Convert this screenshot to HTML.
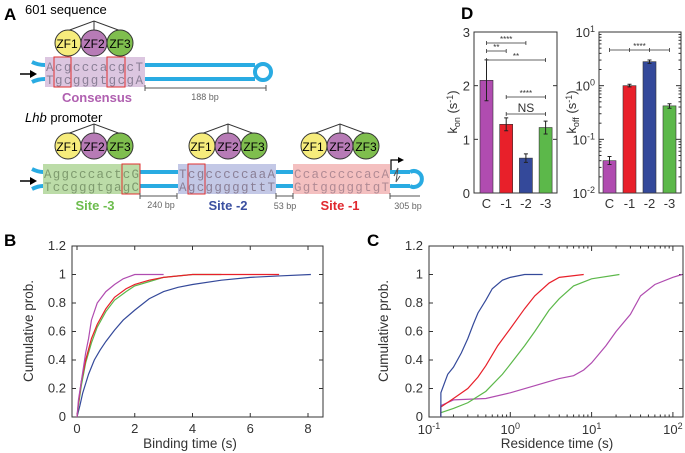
<!DOCTYPE html>
<html><head><meta charset="utf-8"><style>
html,body{margin:0;padding:0;background:#fff}
svg{display:block;font-family:"Liberation Sans",sans-serif}
.mono{font-family:"Liberation Mono",monospace;font-size:12.5px;fill:#8a7f96}
.tk{font-size:13px;fill:#333}
</style></head><body>
<svg id="fig" width="685" height="453" viewBox="0 0 685 453">
<defs>
<g id="zf">
<polyline points="-27,-12 0,-22 27,-12" fill="none" stroke="#333" stroke-width="1"/>
<line x1="0" y1="-22" x2="0" y2="-13" stroke="#333"/>
<circle cx="-26" cy="0" r="13" fill="#f6ec7c" stroke="#333"/>
<circle cx="0" cy="0" r="13" fill="#b77bb6" stroke="#333"/>
<circle cx="26" cy="0" r="13" fill="#7fbe4e" stroke="#333"/>
</g>
</defs>
<!-- Panel A -->
<g>
<text x="4" y="20" font-size="17" font-weight="bold">A</text>
<text x="25" y="14" font-size="13">601 sequence</text>
<g><use href="#zf" x="94" y="43"/>
<text x="67" y="48" font-size="12" text-anchor="middle">ZF1</text><text x="94" y="48" font-size="12" text-anchor="middle">ZF2</text><text x="120" y="48" font-size="12" text-anchor="middle">ZF3</text></g>
<rect x="45" y="57" width="100" height="30" fill="#dcc6e0"/>
<g stroke="#29abe2" stroke-width="4" fill="none">
<path d="M32,62 Q38,65 45,65 M32,82 Q38,79 45,79"/>
<line x1="145" y1="65" x2="255" y2="65"/><line x1="145" y1="79" x2="255" y2="79"/>
<circle cx="263" cy="72" r="8"/></g>
<text x="46" y="71" class="mono" textLength="97" lengthAdjust="spacing">AcgcccacgcT</text><text x="46" y="84" class="mono" textLength="97" lengthAdjust="spacing">TgcgggtgcgA</text>
<rect x="54" y="57" width="17" height="30" fill="none" stroke="#e03030"/>
<rect x="107" y="57" width="18" height="30" fill="none" stroke="#e03030"/>
<path d="M20,74 H33" stroke="#000" stroke-width="1.5"/><path d="M37,74 L30,70 L30,78Z"/>
<text x="97" y="102" font-size="13" font-weight="bold" fill="#b060b0" text-anchor="middle">Consensus</text>
<path d="M145,85 V91 M145,88 H266 M266,85 V91" stroke="#555" fill="none"/>
<text x="205" y="100" font-size="9" fill="#666" text-anchor="middle">188 bp</text>
<text x="25" y="122" font-size="13"><tspan font-style="italic">Lhb</tspan> promoter</text>
<g><use href="#zf" x="94" y="146"/><text x="67" y="151" font-size="12" text-anchor="middle">ZF1</text><text x="94" y="151" font-size="12" text-anchor="middle">ZF2</text><text x="120" y="151" font-size="12" text-anchor="middle">ZF3</text></g>
<g><use href="#zf" x="228" y="146"/><text x="201" y="151" font-size="12" text-anchor="middle">ZF1</text><text x="228" y="151" font-size="12" text-anchor="middle">ZF2</text><text x="254" y="151" font-size="12" text-anchor="middle">ZF3</text></g>
<g><use href="#zf" x="340" y="146"/><text x="313" y="151" font-size="12" text-anchor="middle">ZF1</text><text x="340" y="151" font-size="12" text-anchor="middle">ZF2</text><text x="366" y="151" font-size="12" text-anchor="middle">ZF3</text></g>
<rect x="43" y="164" width="97" height="30" fill="#bcdca8"/>
<rect x="178" y="164" width="98" height="30" fill="#c3c8e6"/>
<rect x="293" y="164" width="97" height="30" fill="#f4c0c0"/>
<g stroke="#29abe2" stroke-width="4" fill="none">
<path d="M32,169 Q38,172 43,172 M32,189 Q38,186 43,186"/>
<line x1="140" y1="172" x2="178" y2="172"/><line x1="140" y1="186" x2="178" y2="186"/>
<line x1="276" y1="172" x2="293" y2="172"/><line x1="276" y1="186" x2="293" y2="186"/>
<line x1="390" y1="172" x2="410" y2="172"/><line x1="390" y1="186" x2="410" y2="186"/>
<path d="M410,172 A8,8 0 1 1 410,186" /></g>
<path d="M394,176 L398,168 L396,182 L400,176" stroke="#555" fill="none"/>
<path d="M391,170 V160 H400" stroke="#000" fill="none" stroke-width="1.2"/><path d="M404,160 L398,157 L398,163Z"/>
<text x="44" y="178" class="mono" style="fill:#7e9a6e" textLength="95" lengthAdjust="spacing">AggcccactcG</text><text x="44" y="191" class="mono" style="fill:#7e9a6e" textLength="95" lengthAdjust="spacing">TccgggtgagC</text>
<text x="179" y="178" class="mono" textLength="96" lengthAdjust="spacing">TcgcccccaaA</text><text x="179" y="191" class="mono" textLength="96" lengthAdjust="spacing">AgcgggggttT</text>
<text x="294" y="178" class="mono" style="fill:#b08a94" textLength="95" lengthAdjust="spacing">CcacccccacA</text><text x="294" y="191" class="mono" style="fill:#b08a94" textLength="95" lengthAdjust="spacing">GgtgggggtgT</text>
<rect x="122" y="164" width="18" height="30" fill="none" stroke="#e03030"/>
<rect x="188" y="164" width="17" height="30" fill="none" stroke="#e03030"/>
<path d="M20,181 H33" stroke="#000" stroke-width="1.5"/><path d="M37,181 L30,177 L30,185Z"/>
<text x="95" y="210" font-size="13" font-weight="bold" fill="#6cbc4c" text-anchor="middle">Site -3</text>
<text x="228" y="210" font-size="13" font-weight="bold" fill="#3a4fa0" text-anchor="middle">Site -2</text>
<text x="340" y="210" font-size="13" font-weight="bold" fill="#e0282e" text-anchor="middle">Site -1</text>
<path d="M140,193 V199 M140,196 H177 M177,193 V199 M276,193 V199 M276,196 H293 M293,193 V199 M390,193 V199 M390,196 H420" stroke="#555" fill="none"/>
<text x="161" y="208" font-size="9" fill="#666" text-anchor="middle">240 bp</text>
<text x="285" y="209" font-size="9" fill="#666" text-anchor="middle">53 bp</text>
<text x="408" y="209" font-size="9" fill="#666" text-anchor="middle">305 bp</text>
</g>
<g id="charts"></g>
</svg>
<script>
// Panel B data (binding time s, cumulative prob)
const bMagT=[0,0.05,0.15,0.3,0.4,0.5,0.7,1,1.3,1.6,2,3];
const bMagP=[0,0.12,0.25,0.45,0.55,0.68,0.8,0.88,0.93,0.97,1,1];
const bRedT=[0,0.05,0.15,0.3,0.5,0.7,1,1.3,1.7,2,2.5,3,4,7];
const bRedP=[0,0.1,0.25,0.4,0.55,0.65,0.76,0.84,0.9,0.93,0.96,0.98,1,1];
const bGrnT=[0,0.05,0.15,0.3,0.5,0.7,1,1.3,1.7,2,2.5,3,4,5];
const bGrnP=[0,0.08,0.22,0.38,0.52,0.63,0.74,0.82,0.88,0.92,0.95,0.98,1,1];
const bBluT=[0,0.1,0.2,0.4,0.6,0.8,1,1.3,1.6,2,2.5,3,3.5,4,5,6,7,8.1];
const bBluP=[0,0.08,0.17,0.3,0.4,0.47,0.53,0.61,0.68,0.75,0.83,0.88,0.91,0.93,0.96,0.98,0.99,1];
const bXTicks=[0,2,4,6,8];
const yTicks=[0,0.2,0.4,0.6,0.8,1,1.2];
const yTickLabels=["0","0.2","0.4","0.6","0.8","1","1.2"];
// Panel C data (residence time s, cumulative prob)
const cBluT=[0.14,0.14,0.17,0.2,0.25,0.3,0.35,0.4,0.5,0.6,0.8,1,1.5,2.5];
const cBluP=[0,0.17,0.3,0.35,0.45,0.55,0.65,0.73,0.82,0.9,0.96,0.98,1,1];
const cRedT=[0.14,0.14,0.2,0.3,0.4,0.5,0.7,1,1.5,2,3,4,8];
const cRedP=[0,0.07,0.13,0.2,0.28,0.36,0.5,0.62,0.76,0.85,0.94,0.98,1];
const cGrnT=[0.14,0.14,0.2,0.3,0.5,0.8,1,1.5,2,3,4,6,10,22];
const cGrnP=[0,0.03,0.06,0.1,0.18,0.3,0.37,0.5,0.6,0.75,0.83,0.92,0.97,1];
const cMagT=[0.14,0.14,0.2,0.5,1,2,4,6,8,10,15,20,30,40,60,100,130];
const cMagP=[0,0.08,0.12,0.13,0.17,0.22,0.27,0.29,0.33,0.38,0.5,0.6,0.72,0.85,0.93,0.98,1];
const cXTickExp=[-1,0,1,2];
// Panel D data
const dCats=["C","-1","-2","-3"];
const konVals=[2.1,1.28,0.65,1.22];
const konErr=[0.38,0.12,0.08,0.12];
const koffVals=[0.04,1.0,2.8,0.42];
const koffLo=[0.034,0.95,2.6,0.38];
const koffHi=[0.048,1.06,3.0,0.46];
const konTicks=[0,1,2,3];
const koffTickExp=[-2,-1,0,1];

const NS="http://www.w3.org/2000/svg";
const root=document.getElementById('charts');
function mk(tag,attrs,parent,txt){const e=document.createElementNS(NS,tag);for(const k in attrs)e.setAttribute(k,attrs[k]);if(txt!==undefined)e.textContent=txt;(parent||root).appendChild(e);return e;}
const COL={mag:"#b04cb0",red:"#e8202a",blu:"#34499a",grn:"#5cb84a"};

function axesBox(g,x0,y0,x1,y1){mk('rect',{x:x0,y:y0,width:x1-x0,height:y1-y0,fill:'none',stroke:'#333','stroke-width':1},g);}

function stepPath(T,P,sx,sy){let d='M'+sx(T[0])+','+sy(P[0]);for(let i=1;i<T.length;i++){d+=' H'+sx(T[i])+' V'+sy(P[i]);}return d;}
function linePath(T,P,sx,sy){return T.map((t,i)=>(i?'L':'M')+sx(t)+','+sy(P[i])).join(' ');}

// ---------- Panel B ----------
const gB=mk('g',{});


const bx0=72,bx1=323,by0=246,by1=417;
const sxB=t=>77+t*(308-77)/8;
const syY=p=>by1-p*(by1-by0)/1.2;
axesBox(gB,bx0,by0,bx1,by1);
yTicks.forEach((v,i)=>{const y=syY(v);mk('line',{x1:bx0,y1:y,x2:bx0+4,y2:y,stroke:'#333'},gB);mk('line',{x1:bx1,y1:y,x2:bx1-4,y2:y,stroke:'#333'},gB);
 const t=mk('text',{x:bx0-6,y:y+4,'text-anchor':'end',class:'tk'},gB,yTickLabels[i]);});
bXTicks.forEach(v=>{const x=sxB(v);mk('line',{x1:x,y1:by1,x2:x,y2:by1-4,stroke:'#333'},gB);mk('line',{x1:x,y1:by0,x2:x,y2:by0+4,stroke:'#333'},gB);
 const t=mk('text',{x:x,y:by1+16,'text-anchor':'middle',class:'tk'},gB,String(v));});
[[bBluT,bBluP,COL.blu,'b-series-site2'],[bGrnT,bGrnP,COL.grn,'b-series-site3'],[bRedT,bRedP,COL.red,'b-series-site1'],[bMagT,bMagP,COL.mag,'b-series-consensus']].forEach(s=>{
 const p=mk('path',{d:linePath(s[0],s[1],sxB,syY),fill:'none',stroke:s[2],'stroke-width':1.2},gB);
});
let t=mk('text',{x:190,y:448,'text-anchor':'middle','font-size':'13.5',fill:'#333'},gB,'Binding time (s)');
t=mk('text',{x:0,y:0,transform:'translate(33,331) rotate(-90)','text-anchor':'middle','font-size':'13.5',fill:'#333'},gB,'Cumulative prob.');
t=mk('text',{x:4,y:246,'font-size':'17','font-weight':'bold'},gB,'B');

// ---------- Panel C ----------
const gC=mk('g',{});


const cx0=429,cx1=683,cy0=246,cy1=417;
const sxC=t=>429+(Math.log10(t)+1)*81.3;
axesBox(gC,cx0,cy0,cx1,cy1);
yTicks.forEach((v,i)=>{const y=syY(v);mk('line',{x1:cx0,y1:y,x2:cx0+4,y2:y,stroke:'#333'},gC);mk('line',{x1:cx1,y1:y,x2:cx1-4,y2:y,stroke:'#333'},gC);
 const t=mk('text',{x:cx0-6,y:y+4,'text-anchor':'end',class:'tk'},gC,yTickLabels[i]);});
cXTickExp.forEach(e=>{const x=sxC(Math.pow(10,e));mk('line',{x1:x,y1:cy1,x2:x,y2:cy1-5,stroke:'#333'},gC);mk('line',{x1:x,y1:cy0,x2:x,y2:cy0+5,stroke:'#333'},gC);
 for(let k=2;k<10&&e<2;k++){const xm=sxC(k*Math.pow(10,e));if(xm<cx1){mk('line',{x1:xm,y1:cy1,x2:xm,y2:cy1-2.5,stroke:'#333'},gC);mk('line',{x1:xm,y1:cy0,x2:xm,y2:cy0+2.5,stroke:'#333'},gC);}}
 const t=mk('text',{x:x,y:cy1+17,'text-anchor':'middle',class:'tk'},gC);
 mk('tspan',{},t,'10');mk('tspan',{dy:-5,'font-size':'9'},t,String(e));});
[[cMagT,cMagP,COL.mag,'c-series-consensus'],[cGrnT,cGrnP,COL.grn,'c-series-site3'],[cRedT,cRedP,COL.red,'c-series-site1'],[cBluT,cBluP,COL.blu,'c-series-site2']].forEach(s=>{
 const p=mk('path',{d:linePath(s[0],s[1],sxC,syY),fill:'none',stroke:s[2],'stroke-width':1.2},gC);
});
t=mk('text',{x:557,y:448,'text-anchor':'middle','font-size':'13.5',fill:'#333'},gC,'Residence time (s)');
t=mk('text',{x:0,y:0,transform:'translate(388,331) rotate(-90)','text-anchor':'middle','font-size':'13.5',fill:'#333'},gC,'Cumulative prob.');
t=mk('text',{x:367,y:246,'font-size':'17','font-weight':'bold'},gC,'C');

// ---------- Panel D ----------
const gD=mk('g',{});


const dCol=[COL.mag,COL.red,COL.blu,COL.grn];
t=mk('text',{x:461,y:19,'font-size':'17','font-weight':'bold'},gD,'D');
// kon
const kx0=474,kx1=557,ky0=32,ky1=193;
const syK=v=>ky1-v*(ky1-ky0)/3;
const sxK=i=>486.5+i*19.7;
axesBox(gD,kx0,ky0,kx1,ky1);
konTicks.forEach(v=>{const y=syK(v);mk('line',{x1:kx0,y1:y,x2:kx0+4,y2:y,stroke:'#333'},gD);mk('line',{x1:kx1,y1:y,x2:kx1-4,y2:y,stroke:'#333'},gD);
 const t=mk('text',{x:kx0-4,y:y+5,'text-anchor':'end',class:'tk'},gD,String(v));});
konVals.forEach((v,i)=>{const x=sxK(i);
 const r=mk('rect',{x:x-6.5,y:syK(v),width:13,height:ky1-syK(v),fill:dCol[i],stroke:'#333','stroke-width':0.6},gD);
 mk('path',{d:`M${x},${syK(v+konErr[i])} V${syK(v-konErr[i])} M${x-2},${syK(v+konErr[i])} H${x+2} M${x-2},${syK(v-konErr[i])} H${x+2}`,stroke:'#222',fill:'none'},gD);
 const l=mk('text',{x:x,y:ky1+15,'text-anchor':'middle',class:'tk'},gD,dCats[i]);});
function sig(x1,x2,y,label,fs){mk('path',{d:`M${x1},${y-2} V${y+2} M${x1},${y} H${x2} M${x2},${y-2} V${y+2}`,stroke:'#333',fill:'none','stroke-width':0.8},gD);
 const t=mk('text',{x:(x1+x2)/2,y:label==='NS'?y-2:y-1,'text-anchor':'middle','font-size':fs,fill:'#333'},gD,label);}
sig(sxK(0),sxK(2),43,'****',8);sig(sxK(0),sxK(1),51,'**',8);sig(sxK(0),sxK(3),60,'**',8);
sig(sxK(1),sxK(3),97,'****',8);sig(sxK(1),sxK(3),114,'NS',12);
t=mk('text',{x:0,y:0,transform:'translate(457,112) rotate(-90)','text-anchor':'middle','font-size':'13',fill:'#333'},gD);
mk('tspan',{},t,'k');mk('tspan',{'font-size':'9',dy:3},t,'on');mk('tspan',{dy:-3},t,' (s');mk('tspan',{'font-size':'9',dy:-4},t,'-1');mk('tspan',{dy:4},t,')');
// koff
const fx0=599,fx1=681,fy0=32,fy1=193;
const syF=v=>fy1-(Math.log10(v)+2)*(fy1-fy0)/3;
const sxF=i=>609.5+i*20;
axesBox(gD,fx0,fy0,fx1,fy1);
koffTickExp.forEach(e=>{const y=syF(Math.pow(10,e));mk('line',{x1:fx0,y1:y,x2:fx0+5,y2:y,stroke:'#333'},gD);mk('line',{x1:fx1,y1:y,x2:fx1-5,y2:y,stroke:'#333'},gD);
 for(let k=2;k<10&&e<1;k++){const ym=syF(k*Math.pow(10,e));mk('line',{x1:fx0,y1:ym,x2:fx0+2.5,y2:ym,stroke:'#333'},gD);mk('line',{x1:fx1,y1:ym,x2:fx1-2.5,y2:ym,stroke:'#333'},gD);}
 const t=mk('text',{x:fx0-4,y:y+5,'text-anchor':'end',class:'tk'},gD);
 mk('tspan',{},t,'10');mk('tspan',{dy:-5,'font-size':'9'},t,String(e));});
koffVals.forEach((v,i)=>{const x=sxF(i);
 const r=mk('rect',{x:x-6.5,y:syF(v),width:13,height:fy1-syF(v),fill:dCol[i],stroke:'#333','stroke-width':0.6},gD);
 mk('path',{d:`M${x},${syF(koffHi[i])} V${syF(koffLo[i])} M${x-2},${syF(koffHi[i])} H${x+2} M${x-2},${syF(koffLo[i])} H${x+2}`,stroke:'#222',fill:'none'},gD);
 const l=mk('text',{x:x,y:fy1+15,'text-anchor':'middle',class:'tk'},gD,dCats[i]);});
sig(sxF(0),sxF(3),50,'****',8);
mk('line',{x1:sxF(1),y1:48,x2:sxF(1),y2:52,stroke:'#333','stroke-width':0.8},gD);mk('line',{x1:sxF(2),y1:48,x2:sxF(2),y2:52,stroke:'#333','stroke-width':0.8},gD);
t=mk('text',{x:0,y:0,transform:'translate(576,112) rotate(-90)','text-anchor':'middle','font-size':'13',fill:'#333'},gD);
mk('tspan',{},t,'k');mk('tspan',{'font-size':'9',dy:3},t,'off');mk('tspan',{dy:-3},t,' (s');mk('tspan',{'font-size':'9',dy:-4},t,'-1');mk('tspan',{dy:4},t,')');
</script>
</body></html>
